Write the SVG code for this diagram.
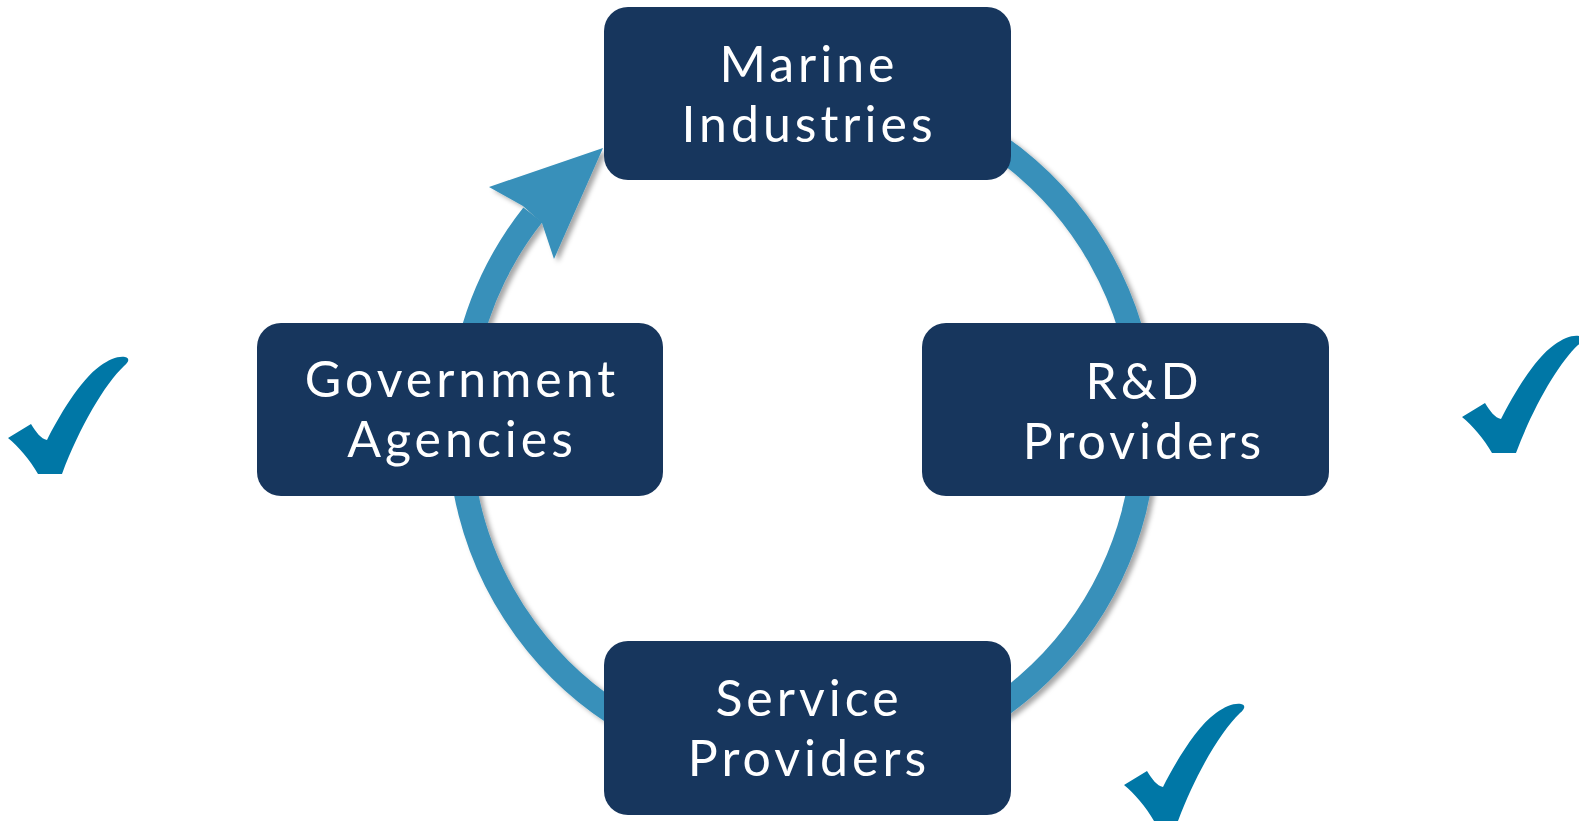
<svg xmlns="http://www.w3.org/2000/svg" width="1579" height="823" viewBox="0 0 1579 823">
  <defs>
    <filter id="shadow" x="-10%" y="-10%" width="120%" height="120%">
      <feDropShadow dx="4" dy="3" stdDeviation="2.5" flood-color="#000" flood-opacity="0.35"/>
    </filter>
    <path id="check" d="M8,98 L31,84 C36,92 41,99 47,100 C58,78 80,40 100,26 C110,19 118,16 125,17 C130,18 129,22 124,26 C105,44 80,86 62,134 L38,134 C30,120 18,106 8,98 Z"/>
  </defs>
  <style>
    .node { fill: #17365D; }
    .label { font-family: Lato, "Open Sans", "Liberation Sans", sans-serif; font-size: 50px; letter-spacing: 4px; fill: #FFFFFF; text-anchor: middle; }
    .ring { fill: none; stroke: #3790BA; stroke-width: 24; }
    .head { fill: #3790BA; }
    .tick { fill: #0077A6; }
  </style>
  <rect width="1579" height="823" fill="#FFFFFF"/>

  <g id="checks">
    <use href="#check" class="tick" transform="translate(0,340)"/>
    <use href="#check" class="tick" transform="translate(1454,319)"/>
    <use href="#check" class="tick" transform="translate(1116,687)"/>
  </g>

  <g id="connectors" filter="url(#shadow)">
    <path class="ring" d="M 890.7 95.8 A 342.6 342.6 0 1 1 532.8 214.8"/>
    <polygon class="head" points="603,148 489,187 523,206 542,223 554,259"/>
  </g>

  <g id="node-marine">
    <rect class="node" x="604" y="7" width="407" height="173" rx="24"/>
    <text class="label" x="809" y="82">Marine</text>
    <text class="label" x="809" y="142">Industries</text>
  </g>

  <g id="node-government">
    <rect class="node" x="257" y="323" width="406" height="173" rx="24"/>
    <text class="label" x="462" y="397">Government</text>
    <text class="label" x="462" y="457">Agencies</text>
  </g>

  <g id="node-rd">
    <rect class="node" x="922" y="323" width="407" height="173" rx="24"/>
    <text class="label" x="1144" y="399">R&amp;D</text>
    <text class="label" x="1144" y="459">Providers</text>
  </g>

  <g id="node-service">
    <rect class="node" x="604" y="641" width="407" height="174" rx="24"/>
    <text class="label" x="809" y="716">Service</text>
    <text class="label" x="809" y="776">Providers</text>
  </g>
</svg>
